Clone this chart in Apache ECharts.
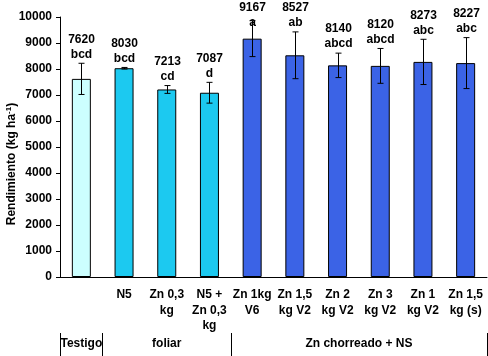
<!DOCTYPE html>
<html><head><meta charset="utf-8">
<script src="https://cdn.jsdelivr.net/npm/echarts@6/dist/echarts.min.js"></script>
<style>html,body{margin:0;padding:0;background:#fff}#c{width:488px;height:356px}</style>
</head><body><div id="c"></div>
<script>
const categories = ['', 'N5', 'Zn 0,3\nkg', 'N5 +\nZn 0,3\nkg', 'Zn 1kg\nV6', 'Zn 1,5\nkg V2', 'Zn 2\nkg V2', 'Zn 3\nkg V2', 'Zn 1\nkg V2', 'Zn 1,5\nkg (s)'];
const means = [7620, 8030, 7213, 7087, 9167, 8527, 8140, 8120, 8273, 8227];
const errors = [600, 30, 150, 400, 690, 900, 470, 670, 870, 980];
const letters = ['bcd', 'bcd', 'cd', 'd', 'a', 'ab', 'abcd', 'abcd', 'abc', 'abc'];
const groupOf = [0, 1, 1, 1, 2, 2, 2, 2, 2, 2];
const groupNames = ['Testigo', 'foliar', 'Zn chorreado + NS'];
const groupColors = ['#CCFFFF', '#1CC9F0', '#3B63E6'];
const yTicks = [0, 1000, 2000, 3000, 4000, 5000, 6000, 7000, 8000, 9000, 10000];

// group boundaries and centres derived from groupOf
const bounds = [0];
for (let i = 1; i < groupOf.length; i++) if (groupOf[i] !== groupOf[i - 1]) bounds.push(i);
bounds.push(groupOf.length);
const centers = [];
for (let g = 0; g < bounds.length - 1; g++) centers.push((bounds[g] + bounds[g + 1]) / 2);

const FONT = 'Liberation Sans, Arial, sans-serif';
const chart = echarts.init(document.getElementById('c'));
chart.setOption({
  animation: false,
  grid: { left: 60, right: 1, top: 17, bottom: 79, containLabel: false, outerBoundsMode: 'none' },
  xAxis: [{
    type: 'category', data: categories,
    axisLine: { lineStyle: { color: '#000', width: 1 } },
    axisTick: { length: 56, lineStyle: { color: '#000' } },
    axisLabel: { margin: 10, color: '#000', fontFamily: FONT, fontSize: 12, fontWeight: 'bold', lineHeight: 15.5, interval: 0 }
  }, {
    type: 'value', min: 0, max: categories.length, position: 'bottom', offset: 56,
    axisLine: { show: false },
    splitLine: { show: false },
    axisTick: { show: true, customValues: bounds, length: 23, lineStyle: { color: '#000' } },
    axisLabel: {
      customValues: centers, margin: 5, color: '#000', fontFamily: FONT, fontSize: 12, fontWeight: 'bold',
      formatter: v => { const g = centers.indexOf(v); return g >= 0 ? groupNames[g] : ''; }
    }
  }],
  yAxis: {
    type: 'value', min: yTicks[0], max: yTicks[yTicks.length - 1], interval: 1000,
    axisLine: { show: true, lineStyle: { color: '#000' } },
    axisTick: { show: true, length: 4, lineStyle: { color: '#000' } },
    splitLine: { show: false },
    axisLabel: { margin: 8, color: '#000', fontFamily: FONT, fontSize: 12, fontWeight: 'bold', formatter: v => String(v) },
    name: '{a|Rendimiento (kg ha}{s|-1}{a|)}',
    nameLocation: 'middle', nameGap: 41, nameMoveOverlap: false,
    nameTextStyle: {
      padding: [0, 34, 0, 0],
      rich: {
        a: { fontFamily: FONT, fontSize: 12, fontWeight: 'bold', color: '#000' },
        s: { fontFamily: FONT, fontSize: 8, fontWeight: 'bold', color: '#000', verticalAlign: 'top', padding: [0, 0, 6, 0] }
      }
    }
  },
  series: [{
    type: 'bar', barWidth: 19,
    data: means.map((v, i) => ({ value: v, itemStyle: { color: groupColors[groupOf[i]], borderColor: '#000', borderWidth: 1 } }))
  }, {
    type: 'custom', clip: false, z: 5,
    data: means.map((v, i) => [i, v - errors[i], v + errors[i]]),
    encode: { x: 0, y: [1, 2] },
    renderItem: function (params, api) {
      const i = params.dataIndex;
      const lo = api.coord([api.value(0), api.value(1)]);
      const hi = api.coord([api.value(0), api.value(2)]);
      const cx = Math.round(lo[0]) + 0.5;
      const cap = 3;
      let y2 = hi[1] - 9, y1 = y2 - 15;
      if (y1 < 8) { y1 = 8; y2 = 23; }
      const ls = { stroke: '#000', lineWidth: 1 };
      const ts = { fontFamily: FONT, fontSize: 12, fontWeight: 'bold', fill: '#000', align: 'center', verticalAlign: 'middle' };
      return {
        type: 'group', children: [
          { type: 'line', shape: { x1: cx, y1: lo[1], x2: cx, y2: hi[1] }, style: ls },
          { type: 'line', shape: { x1: cx - cap, y1: lo[1], x2: cx + cap, y2: lo[1] }, style: ls },
          { type: 'line', shape: { x1: cx - cap, y1: hi[1], x2: cx + cap, y2: hi[1] }, style: ls },
          { type: 'text', style: Object.assign({ text: String(means[i]), x: cx, y: y1 }, ts) },
          { type: 'text', style: Object.assign({ text: letters[i], x: cx, y: y2 }, ts) }
        ]
      };
    }
  }]
});
</script></body></html>
